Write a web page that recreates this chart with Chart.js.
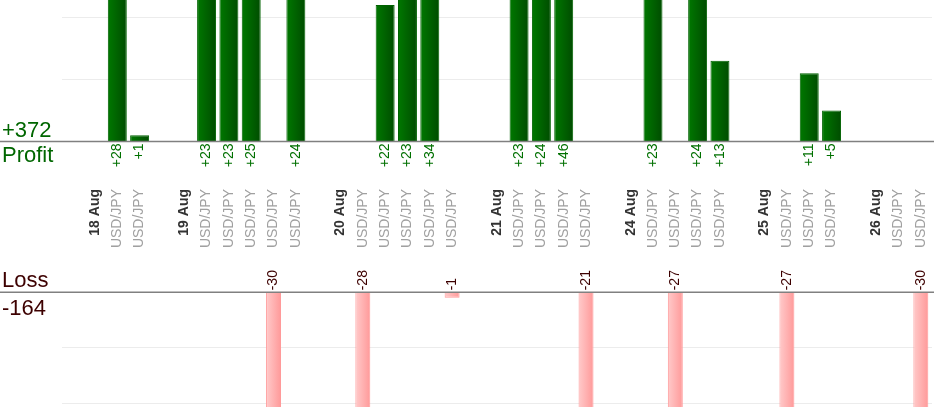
<!DOCTYPE html>
<html>
<head>
<meta charset="utf-8">
<script src="https://cdn.jsdelivr.net/npm/chart.js@4.4.1/dist/chart.umd.min.js"></script>
<style>
  html, body { margin: 0; padding: 0; background: #fff; }
  body { width: 934px; height: 420px; position: relative; overflow: hidden; font-family: Arial, "Liberation Sans", sans-serif; }
  .box { position: absolute; left: 0; width: 934px; }
  #profitBox { top: 0; height: 260px; }
  #lossBox { top: 260px; height: 160px; }
  .sum { position: absolute; left: 2px; font-size: 22px; line-height: 22px; white-space: nowrap; }
  .pos { color: #006600; }
  .neg { color: #3d0000; }
</style>
</head>
<body>
<div class="box" id="profitBox"><canvas id="profitChart"></canvas></div>
<div class="box" id="lossBox"><canvas id="lossChart"></canvas></div>
<div class="sum pos" id="profitTotal" style="top:119px"></div>
<div class="sum pos" style="top:144px">Profit</div>
<div class="sum neg" style="top:269px">Loss</div>
<div class="sum neg" id="lossTotal" style="top:297px"></div>
<script>
const categories = ['', '18 Aug', 'USD/JPY', 'USD/JPY',
    '', '19 Aug', 'USD/JPY', 'USD/JPY', 'USD/JPY', 'USD/JPY', 'USD/JPY',
    '', '20 Aug', 'USD/JPY', 'USD/JPY', 'USD/JPY', 'USD/JPY', 'USD/JPY',
    '', '21 Aug', 'USD/JPY', 'USD/JPY', 'USD/JPY', 'USD/JPY',
    '', '24 Aug', 'USD/JPY', 'USD/JPY', 'USD/JPY', 'USD/JPY',
    '', '25 Aug', 'USD/JPY', 'USD/JPY', 'USD/JPY',
    '', '26 Aug', 'USD/JPY', 'USD/JPY']

const profit = [null, null, 28, 1,
    null, null, 23, 23, 25, null, 24,
    null, null, null, 22, 23, 34, null,
    null, null, 23, 24, 46, null,
    null, null, 23, null, 24, 13,
    null, null, null, 11, 5,
    null, null, null, null]

const loss = [null, null, null, null,
    null, null, null, null, null, -30, null,
    null, null, -28, null, null, null, -1,
    null, null, null, null, null, -21,
    null, null, null, -27, null, null,
    null, null, -27, null, null,
    null, null, null, -30]

const profitTicks = [10, 20]
const lossTicks = [-10, -20]

const fontFamily = 'Arial, "Liberation Sans", sans-serif'
const isDate = (label) => label.indexOf('/') < 0

document.getElementById('profitTotal').textContent = '+' + profit.reduce((a, v) => a + (v || 0), 0)
document.getElementById('lossTotal').textContent = loss.reduce((a, v) => a + (v || 0), 0)

function barGradient(from, to, pct) {
    return (c) => {
        const chart = c.chart
        if (!chart.chartArea || c.dataIndex === undefined) return to
        const xs = chart.scales.x
        const cx = xs.getPixelForValue(c.dataIndex)
        const half = xs.width / categories.length * pct / 2
        const g = chart.ctx.createLinearGradient(cx - half, 0, cx + half, 0)
        g.addColorStop(0, from)
        g.addColorStop(1, to)
        return g
    }
}

// value text next to every bar + the zero line over the full width
const valueLabels = {
    id: 'valueLabels',
    afterDatasetsDraw(chart, args, opts) {
        const ctx = chart.ctx
        const y0 = chart.scales.y.getPixelForValue(0)
        const meta = chart.getDatasetMeta(0)
        const values = chart.data.datasets[0].data
        ctx.save()
        ctx.font = '14px ' + fontFamily
        ctx.fillStyle = opts.color
        ctx.textBaseline = 'middle'
        ctx.textAlign = opts.below ? 'right' : 'left'
        values.forEach((v, i) => {
            if (v === null) return
            ctx.save()
            ctx.translate(meta.data[i].x, opts.below ? y0 + 2 : y0 - 2)
            ctx.rotate(-Math.PI / 2)
            ctx.fillText((v > 0 ? '+' : '') + v, 0, 0)
            ctx.restore()
        })
        ctx.strokeStyle = '#808080'
        ctx.lineWidth = 1.5
        ctx.beginPath()
        ctx.moveTo(0, y0)
        ctx.lineTo(chart.width, y0)
        ctx.stroke()
        ctx.restore()
    }
}

const profitChart = new Chart(document.getElementById('profitChart'), {
    type: 'bar',
    data: {
        labels: categories,
        datasets: [{
            data: profit,
            backgroundColor: barGradient('#007800', '#004c00', 0.85),
            borderColor: '#006200',
            borderWidth: 1,
            barPercentage: 0.85,
            categoryPercentage: 1
        }]
    },
    options: {
        responsive: true,
        maintainAspectRatio: false,
        animation: false,
        layout: { padding: { left: 61.5, right: 2, top: 0, bottom: 0 } },
        plugins: {
            legend: { display: false },
            tooltip: { enabled: false },
            valueLabels: { color: '#007000', below: true }
        },
        scales: {
            x: {
                grid: { display: false, drawTicks: false },
                border: { display: false },
                afterFit: (scale) => {
                    scale.height = 118.5
                    scale.paddingLeft = 0
                    scale.paddingRight = 0
                },
                ticks: {
                    autoSkip: false,
                    minRotation: 90,
                    maxRotation: 90,
                    padding: 47.5,
                    color: (c) => isDate(categories[c.index]) ? '#333333' : '#a0a0a0',
                    font: (c) => ({
                        family: fontFamily,
                        size: 14,
                        weight: isDate(categories[c.index]) ? 'bold' : 'normal'
                    })
                }
            },
            y: {
                min: 0,
                max: 22.8,
                afterBuildTicks: (scale) => { scale.ticks = profitTicks.map((v) => ({ value: v })) },
                ticks: { display: false },
                grid: { color: '#ececec', lineWidth: 1, drawTicks: false },
                border: { display: false }
            }
        }
    },
    plugins: [valueLabels]
})

const lossChart = new Chart(document.getElementById('lossChart'), {
    type: 'bar',
    data: {
        labels: categories,
        datasets: [{
            data: loss,
            backgroundColor: barGradient('#ffcaca', '#ff9999', 0.67),
            borderColor: '#ff9a9a',
            borderWidth: 1,
            barPercentage: 0.67,
            categoryPercentage: 1
        }]
    },
    options: {
        responsive: true,
        maintainAspectRatio: false,
        animation: false,
        layout: { padding: { left: 61.5, right: 2, top: 32.3, bottom: 13 } },
        plugins: {
            legend: { display: false },
            tooltip: { enabled: false },
            valueLabels: { color: '#3d0000', below: false }
        },
        scales: {
            x: { display: false },
            y: {
                min: -20.7,
                max: 0,
                afterBuildTicks: (scale) => { scale.ticks = lossTicks.map((v) => ({ value: v })) },
                ticks: { display: false },
                grid: { color: '#ececec', lineWidth: 1, drawTicks: false },
                border: { display: false }
            }
        }
    },
    plugins: [valueLabels]
})
</script>
</body>
</html>
